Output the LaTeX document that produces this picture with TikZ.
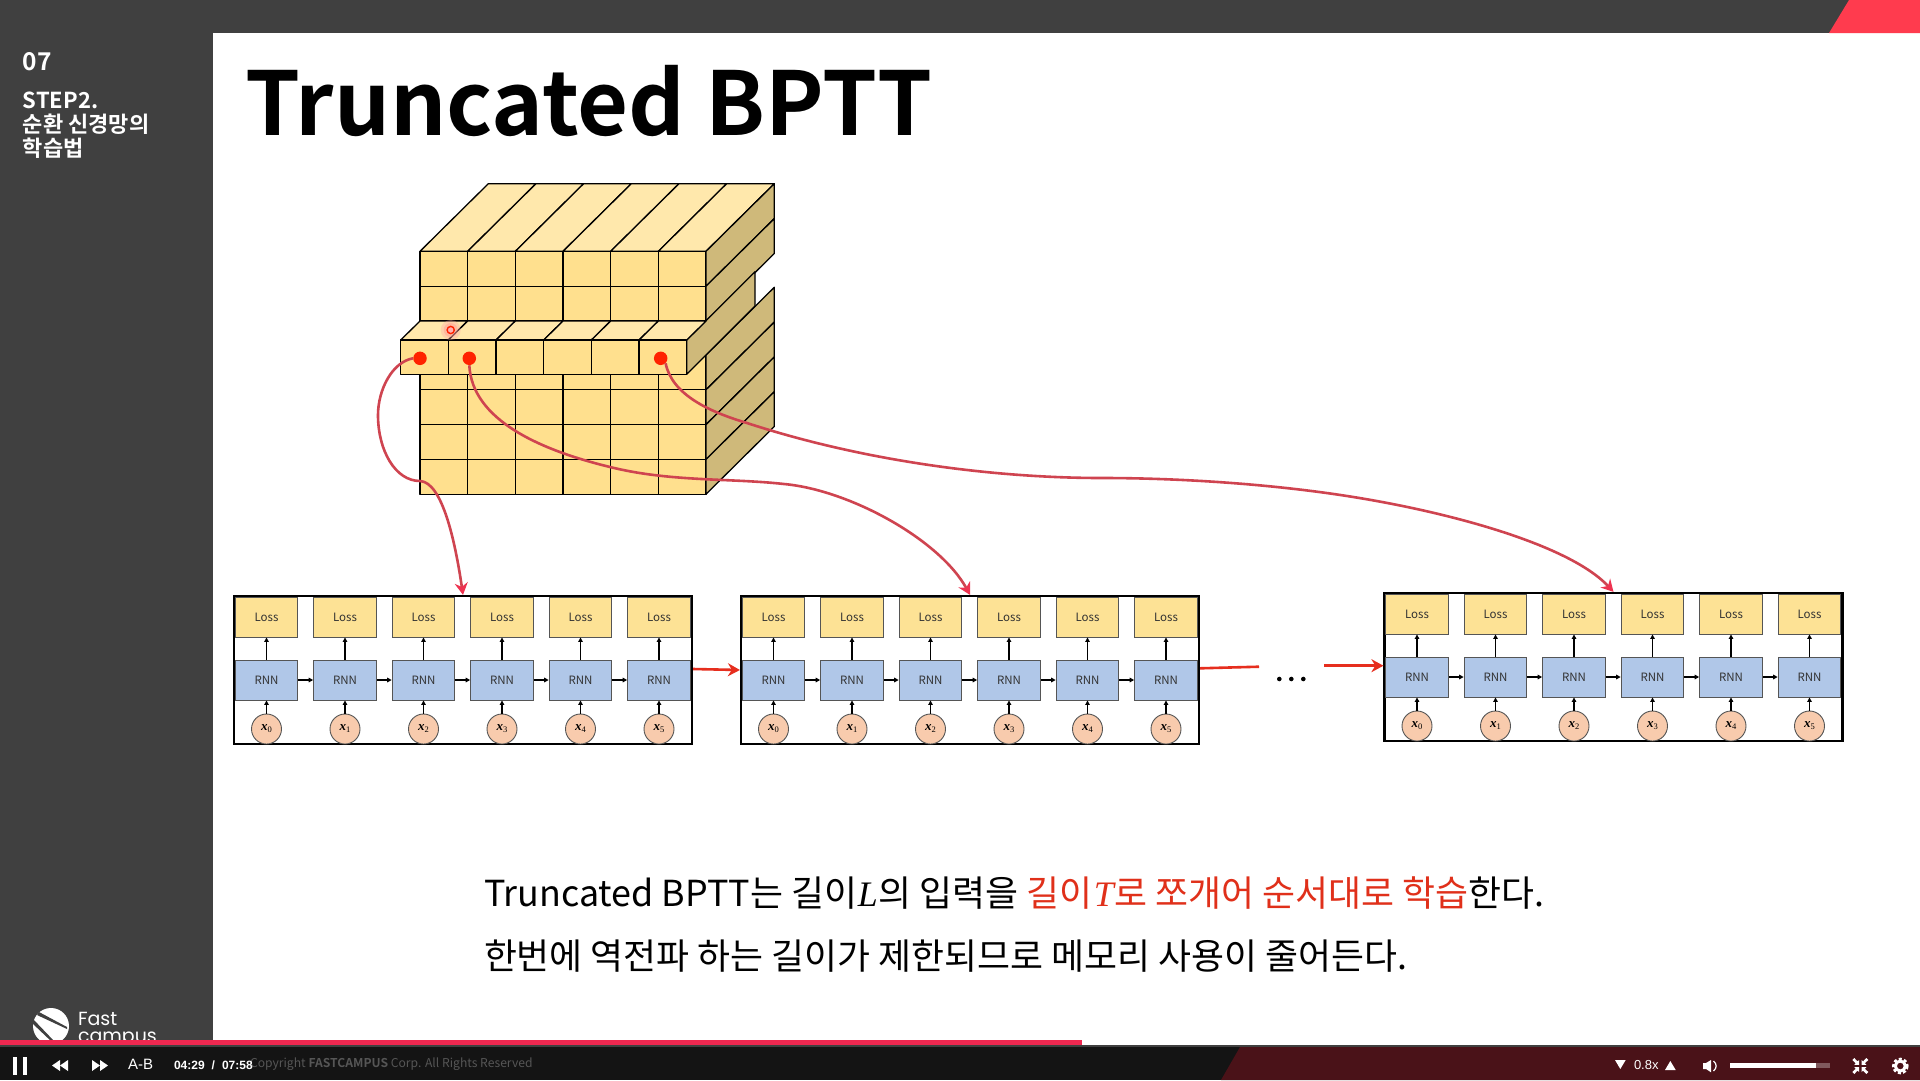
\documentclass[tikz,border=0pt]{standalone}
\usepackage{fontspec}
\usetikzlibrary{arrows.meta}
\setmainfont{Noto Sans CJK KR}[BoldFont={Noto Sans CJK KR Bold}]
\newfontfamily\mathserif{Liberation Serif}
\newfontfamily\playerfont{Liberation Sans}
\newfontfamily\logofont{Poppins}
\definecolor{panel}{HTML}{404040}
\definecolor{barblack}{HTML}{141414}
\definecolor{barred}{HTML}{4A1218}
\definecolor{progress}{HTML}{EE2850}
\definecolor{cornerred}{HTML}{FF3B4E}
\definecolor{front}{HTML}{FFE08E}
\definecolor{topface}{HTML}{FFE8AC}
\definecolor{sideface}{HTML}{CFB97A}
\definecolor{lossfill}{HTML}{FDE295}
\definecolor{rnnfill}{HTML}{B0C7E8}
\definecolor{infill}{HTML}{F8CBAD}
\definecolor{boxline}{HTML}{555555}
\definecolor{curvered}{HTML}{CF4450}
\definecolor{tipred}{HTML}{EE3350}
\definecolor{linkred}{HTML}{E62E1E}
\definecolor{textred}{HTML}{E0301A}
\definecolor{dotred}{HTML}{FF2200}
\newcommand{\fsz}[1]{\fontsize{#1}{#1}\selectfont}
\newcommand{\xlab}[1]{{\mathserif\bfseries\itshape\fsz{13}x}\raisebox{-2pt}{\mathserif\fsz{8.5}#1}}
\newcommand{\mvar}[1]{\hspace{1pt}{\mathserif\itshape #1}\hspace{1pt}}
\tikzset{
  txt/.style={inner sep=0pt,outer sep=0pt,anchor=base west},
  framebox/.style={draw=black,line width=2.2pt,fill=white,minimum width=458pt,minimum height=148pt,inner sep=0pt},
  lossbox/.style={draw=boxline,line width=0.9pt,fill=lossfill,minimum width=62.7pt,minimum height=40pt,inner sep=0pt,font=\fsz{11.5},text=black!80},
  rnnbox/.style={draw=boxline,line width=0.9pt,fill=rnnfill,minimum width=62.7pt,minimum height=40pt,inner sep=0pt,font=\fsz{11.5},text=black!80},
  inbox/.style={circle,draw=boxline,line width=0.9pt,fill=infill,minimum size=30pt,inner sep=0pt},
  flow/.style={line width=1.3pt,black,-{Triangle[length=4.5pt,width=4.5pt]}},
  reddot/.style={circle,fill=dotred,minimum size=13.5pt,inner sep=0pt},
  pickcurve/.style={curvered,line width=2.6pt,-{Stealth[length=12pt,width=13pt,color=tipred]}},
  linkarrow/.style={linkred,line width=2.6pt,-{Stealth[length=12pt,width=13pt]}},
  cubeline/.style={draw=black,line width=1.3pt,line join=round},
  ellipsisdot/.style={circle,fill=black,minimum size=4.6pt,inner sep=0pt},
  playtxt/.style={txt,text=white,font=\playerfont\fsz{15}}
}
\newcommand{\rnnframe}[3]{%
  \node[framebox] (f#1) at (#2,#3+74) {};
  \foreach \i [count=\n from 0] in {0,78.5,157,235.5,314,392.5}{
    \node[lossbox] (L#1-\n) at (#2-196.5+\i,#3+21) {Loss};
    \node[rnnbox] (R#1-\n) at (#2-196.5+\i,#3+84) {RNN};
    \node[inbox] (X#1-\n) at (#2-196.5+\i,#3+133) {\xlab{\n}};
    \draw[flow] (R#1-\n) -- (L#1-\n);
    \draw[flow] (X#1-\n) -- (R#1-\n);
  }
  \foreach \a/\b in {0/1,1/2,2/3,3/4,4/5}{
    \draw[flow] (R#1-\a) -- (R#1-\b);
  }%
}
\begin{document}
\begin{tikzpicture}[x=1pt,y=-1pt]
\useasboundingbox (0,0) rectangle (1920,1080);
% page
\fill[white] (0,0) rectangle (1920,1080);
\fill[panel] (0,0) rectangle (1920,33);
\fill[panel] (0,0) rectangle (213,1047);
\fill[cornerred] (1829,33) -- (1849,0) -- (1920,0) -- (1920,33) -- cycle;
% sidebar
\node[txt,text=white,font=\bfseries\fsz{24.5}] (secnum) at (23,70.5) {07};
\node[txt,text=white,font=\bfseries\fsz{22}] (sec1) at (23,108) {STEP2.};
\node[txt,text=white,font=\bfseries\fsz{22}] (sec2) at (23,132.5) {순환 신경망의};
\node[txt,text=white,font=\bfseries\fsz{22}] (sec3) at (23,156.5) {학습법};
% title
\node[txt,font=\bfseries\fsz{88}] (title) at (245,135) {Truncated BPTT};
% lower block
\foreach \c in {0,...,5}{
  \pgfmathsetmacro{\xa}{420+47.67*\c}
  \pgfmathsetmacro{\xb}{420+47.67*(\c+1)}
  \foreach \r in {0,...,3}{
    \pgfmathsetmacro{\ya}{355+34.8*\r}
    \pgfmathsetmacro{\yb}{355+34.8*(\r+1)}
    \filldraw[cubeline,fill=front] (\xa,\ya) rectangle (\xb,\yb);
  }
}
\foreach \r in {0,...,3}{
  \pgfmathsetmacro{\ya}{355+34.8*\r}
  \pgfmathsetmacro{\yb}{355+34.8*(\r+1)}
  \filldraw[cubeline,fill=sideface] (706,\ya) -- (774.3,\ya-67.7) -- (774.3,\yb-67.7) -- (706,\yb) -- cycle;
}
% top block
\foreach \c in {0,...,5}{
  \pgfmathsetmacro{\xa}{420+47.67*\c}
  \pgfmathsetmacro{\xb}{420+47.67*(\c+1)}
  \filldraw[cubeline,fill=topface] (\xa,251.3) -- (\xa+68.3,183.7) -- (\xb+68.3,183.7) -- (\xb,251.3) -- cycle;
  \foreach \r in {0,1}{
    \pgfmathsetmacro{\ya}{251.3+34.9*\r}
    \pgfmathsetmacro{\yb}{251.3+34.9*(\r+1)}
    \filldraw[cubeline,fill=front] (\xa,\ya) rectangle (\xb,\yb);
  }
}
\foreach \r in {0,1}{
  \pgfmathsetmacro{\ya}{251.3+34.9*\r}
  \pgfmathsetmacro{\yb}{251.3+34.9*(\r+1)}
  \filldraw[cubeline,fill=sideface] (706,\ya) -- (774.3,\ya-67.6) -- (774.3,\yb-67.6) -- (706,\yb) -- cycle;
}
% pulled-out slice
\filldraw[cubeline,fill=sideface] (686.7,340) -- (755,271.7) -- (755,306) -- (686.7,374.3) -- cycle;
\foreach \c in {0,...,5}{
  \pgfmathsetmacro{\xa}{400.7+47.67*\c}
  \pgfmathsetmacro{\xb}{400.7+47.67*(\c+1)}
  \filldraw[cubeline,fill=topface] (\xa,340) -- (\xa+19.3,321) -- (\xb+19.3,321) -- (\xb,340) -- cycle;
  \filldraw[cubeline,fill=front] (\xa,340) rectangle (\xb,374.3);
}
% frames
\rnnframe{1}{463}{596}
\rnnframe{2}{970}{596}
\rnnframe{3}{1613.5}{593}
% links between frames
\draw[linkarrow] (f1.east |- 0,669) -- (f2.west |- 0,670);
\coordinate (cutA) at (1259,666.7);
\coordinate (cutB) at (1324,665.7);
\draw[linkred,line width=2.6pt] (f2.east |- 0,668.3) -- (cutA);
\draw[linkarrow] (cutB) -- (f3.west |- 0,665.7);
\node[ellipsisdot] (e1) at (1279.3,679) {};
\node[ellipsisdot] (e2) at (1291.3,679) {};
\node[ellipsisdot] (e3) at (1303.3,679) {};
% dots and curves
\fill[red!35,opacity=.35] (450.7,330) circle (10);
\fill[red!45,opacity=.35] (450.7,330) circle (7);
\draw[dotred,line width=1.4pt,fill=white!70!red] (450.7,330) circle (3.6);
\node[reddot] (d1) at (420,358.3) {};
\node[reddot] (d2) at (469.3,358.3) {};
\node[reddot] (d3) at (660.7,358.3) {};
\draw[pickcurve] (d1.west) .. controls (392,362) and (378,390) .. (378,415) .. controls (378,450) and (395,481) .. (420,481) .. controls (442,482) and (455,540) .. (f1.north);
\draw[pickcurve] (d2.south) .. controls (472,420) and (540,450) .. (610,467) .. controls (670,482) and (730,478) .. (784,484) .. controls (850,490) and (940,540) .. (f2.north);
\draw[pickcurve] (d3.south east) .. controls (672,395) and (710,412) .. (747,423) .. controls (860,460) and (990,478) .. (1102,478) .. controls (1180,478) and (1270,484) .. (1347,496) .. controls (1450,512) and (1570,545) .. (f3.north);
% body text
\node[txt,font=\fsz{35.85}] (line1) at (484,906) {Truncated BPTT는 길이\mvar{L}의 입력을 \textcolor{textred}{길이\mvar{T}로 쪼개어 순서대로 학습}한다.};
\node[txt,font=\fsz{35.85}] (line2) at (484,969) {한번에 역전파 하는 길이가 제한되므로 메모리 사용이 줄어든다.};
% logo
\begin{scope}
\clip (0,990) rectangle (213,1040);
\fill[white] (51,1026) circle (18);
\fill[panel] (39,1012) -- (67,1027) -- (67,1029) -- (37,1015) -- cycle;
\fill[panel] (33,1019) -- (55,1042) -- (52,1042) -- (32,1023) -- cycle;
\node[txt,text=white,font=\logofont\fsz{19}] (logo1) at (78,1025) {Fast};
\node[txt,text=white,font=\logofont\fsz{19}] (logo2) at (78,1042) {campus};
\end{scope}
% player bar
\fill[barblack] (0,1047) rectangle (1920,1080);
\fill[barred] (1240,1047) -- (1920,1047) -- (1920,1080) -- (1221,1080) -- cycle;
\fill[panel] (0,1045) rectangle (1920,1047);
\fill[progress] (0,1040) rectangle (1082,1045);
\fill[white] (13,1057) rectangle (16.8,1075);
\fill[white] (22.5,1057) rectangle (27,1075);
\fill[white] (52,1065.5) -- (60,1060) -- (60,1071) -- cycle;
\fill[white] (60,1065.5) -- (68,1060) -- (68,1071) -- cycle;
\fill[white] (92,1060) -- (100,1065.5) -- (92,1071) -- cycle;
\fill[white] (100,1060) -- (108,1065.5) -- (100,1071) -- cycle;
\node[playtxt] (ab) at (128,1069.5) {A-B};
\node[txt,text=white!28!barblack,font=\fsz{12.15}] (copyr) at (250,1067) {Copyright \textbf{FASTCAMPUS} Corp. All Rights Reserved};
\node[playtxt,font=\playerfont\bfseries\fsz{12}] (tm) at (174,1069.5) {04:29\hspace{7pt}/\hspace{7pt}07:58};
\fill[white] (1615,1060) -- (1625.7,1060) -- (1620.3,1069) -- cycle;
\node[playtxt,font=\playerfont\fsz{13}] (speed) at (1634,1069) {0.8x};
\fill[white] (1665,1070) -- (1675.7,1070) -- (1670.3,1061) -- cycle;
\fill[white] (1703,1063) -- (1706,1063) -- (1711,1060) -- (1711,1072.3) -- (1706,1069) -- (1703,1069) -- cycle;
\draw[white,line width=1.2pt] (1713.5,1061) .. controls (1717,1064) and (1717,1068) .. (1713.5,1071);
\fill[white] (1730,1062.7) rectangle (1816,1068.3);
\fill[white!30!barred] (1816,1062.7) rectangle (1830,1068.3);
\foreach \sx/\sy in {1/1,-1/1,1/-1,-1/-1}{
  \fill[white,shift={(1860.3,1066)},xscale=\sx,yscale=\sy] (1.2,1.2) -- (6,1.2) -- (4.6,2.8) -- (8,6) -- (6,8) -- (2.8,4.6) -- (1.2,6) -- cycle;
}
\draw[white,line width=3pt] (1900.3,1066) circle (5);
\draw[white,line width=2.6pt,dash pattern=on 3pt off 2.2pt] (1900.3,1066) circle (7);
\end{tikzpicture}
\end{document}
